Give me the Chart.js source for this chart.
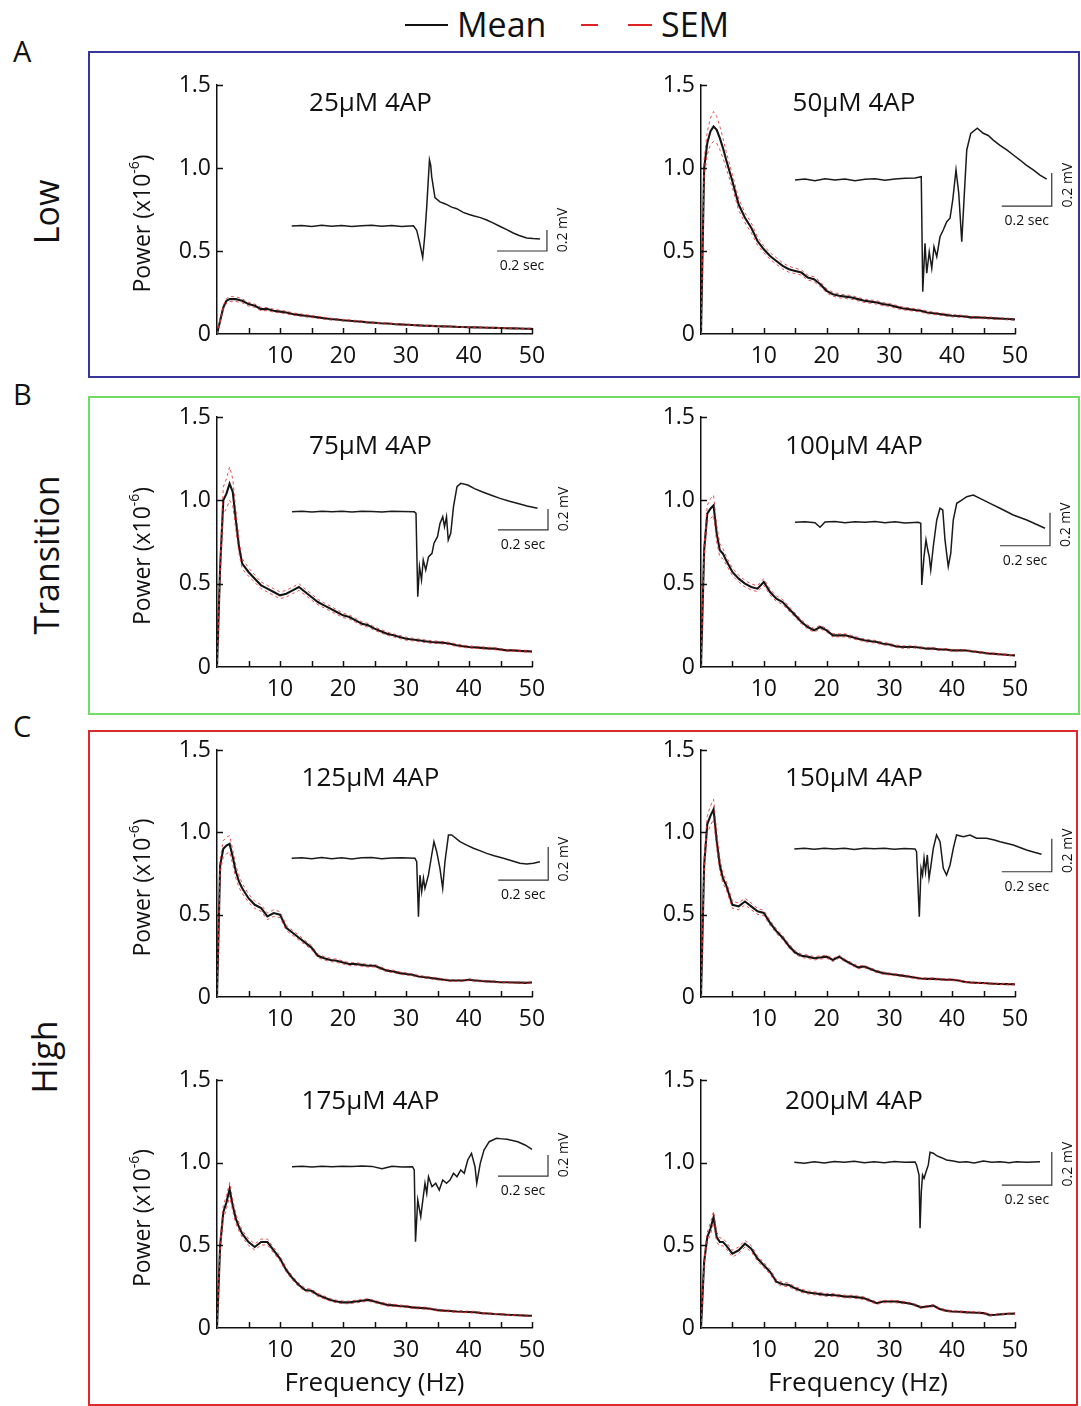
<!DOCTYPE html>
<html>
<head>
<meta charset="utf-8">
<script src="https://cdn.jsdelivr.net/npm/chart.js@4.4.1/dist/chart.umd.min.js"></script>
<style>
	html, body { margin: 0; padding: 0; background: #fff; }
	body { width: 1081px; height: 1406px; position: relative; overflow: hidden; font-family: 'Open Sans', sans-serif; color: #111; }
	.box { position: absolute; box-sizing: border-box; border: 2px solid; }
	.letter { position: absolute; font-size: 29px; line-height: 29px; }
	.rot { position: absolute; font-size: 34px; line-height: 34px; white-space: nowrap; transform: translate(-50%, -50%) rotate(-90deg); }
	.leg { position: absolute; font-size: 34px; line-height: 34px; }
	.dash { position: absolute; height: 0; }
	.panel { position: absolute; }
</style>
</head>
<body>
<div class="box" style="left:88px; top:51px; width:992px; height:327px; border-color:#36369c;"></div>
<div class="box" style="left:88px; top:396px; width:992px; height:319px; border-color:#6fdc66;"></div>
<div class="box" style="left:88px; top:730px; width:990px; height:676px; border-color:#dc2a2a;"></div>

<div class="dash" style="left:405px; top:24px; width:43px; border-top:2.5px solid #111;"></div>
<div class="leg" style="left:457px; top:7px;">Mean</div>
<div class="dash" style="left:581px; top:24px; width:17px; border-top:2.5px solid #e02222;"></div>
<div class="dash" style="left:628px; top:24px; width:24px; border-top:2.5px solid #e02222;"></div>
<div class="leg" style="left:661px; top:7px;">SEM</div>

<div class="letter" style="left:13px; top:36px;">A</div>
<div class="letter" style="left:13px; top:379px;">B</div>
<div class="letter" style="left:13px; top:711px;">C</div>
<div class="rot" style="left:46px; top:212px;">Low</div>
<div class="rot" style="left:46px; top:555px;">Transition</div>
<div class="rot" style="left:44px; top:1057px;">High</div>

<script>
// frequency axis (Hz)
const freqs = [0, 0.5, 1, 1.5, 2, 2.5, 3, 3.5, 4,
	5, 6, 7, 8, 9, 10,
	11, 12, 13, 14, 15, 16, 17, 18, 19, 20,
	21, 22, 23, 24, 25, 26, 27, 28, 29, 30,
	31, 32, 33, 34, 35, 36, 37, 38, 39, 40,
	41, 42, 43, 44, 45, 46, 47, 48, 49, 50];

// mean power (x10^-6)
const mean25 = [0, 0.08, 0.16, 0.20, 0.21, 0.21, 0.21, 0.205, 0.2,
	0.18, 0.17, 0.15, 0.15, 0.14, 0.135,
	0.13, 0.12, 0.115, 0.11, 0.105, 0.1, 0.095, 0.09, 0.087, 0.083,
	0.08, 0.077, 0.074, 0.07, 0.068, 0.065, 0.063, 0.06, 0.058, 0.056,
	0.054, 0.052, 0.05, 0.049, 0.047, 0.046, 0.045, 0.043, 0.042, 0.041,
	0.04, 0.039, 0.038, 0.037, 0.036, 0.035, 0.034, 0.033, 0.032, 0.031];
const mean50 = [0, 1.0, 1.15, 1.22, 1.25, 1.23, 1.18, 1.12, 1.05,
	0.92, 0.78, 0.7, 0.64, 0.56, 0.51,
	0.47, 0.44, 0.41, 0.39, 0.38, 0.37, 0.34, 0.33, 0.3, 0.26,
	0.24, 0.23, 0.225, 0.22, 0.21, 0.2, 0.195, 0.19, 0.18, 0.175,
	0.165, 0.155, 0.15, 0.145, 0.14, 0.13, 0.125, 0.12, 0.115, 0.11,
	0.108, 0.105, 0.1, 0.1, 0.098, 0.096, 0.094, 0.092, 0.09, 0.088];
const mean75 = [0, 0.6, 1.0, 1.04, 1.1, 1.05, 0.88, 0.72, 0.62,
	0.57, 0.53, 0.49, 0.47, 0.45, 0.43,
	0.44, 0.46, 0.48, 0.45, 0.42, 0.39, 0.37, 0.35, 0.33, 0.31,
	0.3, 0.28, 0.26, 0.25, 0.23, 0.215, 0.2, 0.19, 0.18, 0.17,
	0.165, 0.16, 0.155, 0.15, 0.148, 0.145, 0.14, 0.13, 0.125, 0.12,
	0.118, 0.115, 0.112, 0.11, 0.105, 0.1, 0.1, 0.097, 0.095, 0.093];
const mean100 = [0, 0.7, 0.92, 0.95, 0.97, 0.8, 0.7, 0.68, 0.64,
	0.57, 0.53, 0.5, 0.48, 0.47, 0.51,
	0.45, 0.41, 0.39, 0.35, 0.31, 0.27, 0.24, 0.22, 0.24, 0.22,
	0.19, 0.19, 0.19, 0.18, 0.17, 0.16, 0.155, 0.15, 0.14, 0.135,
	0.125, 0.12, 0.12, 0.12, 0.115, 0.11, 0.11, 0.105, 0.105, 0.1,
	0.1, 0.1, 0.095, 0.09, 0.085, 0.08, 0.078, 0.075, 0.072, 0.07];
const mean125 = [0, 0.8, 0.9, 0.92, 0.93, 0.85, 0.76, 0.7, 0.66,
	0.6, 0.56, 0.54, 0.49, 0.51, 0.5,
	0.42, 0.39, 0.36, 0.33, 0.3, 0.25, 0.235, 0.225, 0.22, 0.21,
	0.2, 0.2, 0.195, 0.19, 0.19, 0.175, 0.16, 0.155, 0.145, 0.14,
	0.135, 0.125, 0.12, 0.115, 0.11, 0.105, 0.1, 0.1, 0.1, 0.105,
	0.1, 0.097, 0.095, 0.093, 0.09, 0.09, 0.088, 0.087, 0.086, 0.088];
const mean150 = [0, 0.8, 1.05, 1.1, 1.14, 0.95, 0.8, 0.72, 0.68,
	0.56, 0.55, 0.58, 0.55, 0.52, 0.51,
	0.45, 0.4, 0.36, 0.31, 0.27, 0.25, 0.245, 0.235, 0.24, 0.245,
	0.225, 0.245, 0.22, 0.2, 0.18, 0.185, 0.17, 0.155, 0.145, 0.14,
	0.135, 0.13, 0.125, 0.118, 0.112, 0.11, 0.11, 0.108, 0.105, 0.105,
	0.1, 0.092, 0.088, 0.086, 0.085, 0.082, 0.08, 0.079, 0.078, 0.077];
const mean175 = [0, 0.5, 0.7, 0.76, 0.84, 0.74, 0.66, 0.61, 0.57,
	0.52, 0.49, 0.52, 0.52, 0.47, 0.42,
	0.35, 0.3, 0.26, 0.23, 0.225, 0.2, 0.185, 0.17, 0.16, 0.155,
	0.155, 0.16, 0.165, 0.17, 0.16, 0.15, 0.14, 0.137, 0.133, 0.13,
	0.125, 0.122, 0.12, 0.115, 0.108, 0.105, 0.103, 0.1, 0.098, 0.097,
	0.095, 0.09, 0.088, 0.085, 0.083, 0.08, 0.079, 0.077, 0.075, 0.074];
const mean200 = [0, 0.4, 0.55, 0.6, 0.67, 0.55, 0.52, 0.52, 0.5,
	0.45, 0.47, 0.51, 0.48, 0.42, 0.38,
	0.34, 0.28, 0.265, 0.26, 0.24, 0.225, 0.215, 0.21, 0.205, 0.2,
	0.2, 0.195, 0.19, 0.19, 0.185, 0.18, 0.165, 0.15, 0.16, 0.16,
	0.16, 0.155, 0.15, 0.14, 0.125, 0.13, 0.135, 0.115, 0.105, 0.1,
	0.098, 0.096, 0.094, 0.092, 0.09, 0.078, 0.08, 0.084, 0.086, 0.087];

// SEM of the power
const sem25 = [0, 0.008, 0.012, 0.014, 0.015, 0.015, 0.014, 0.013, 0.012,
	0.011, 0.01, 0.01, 0.009, 0.009, 0.008,
	0.008, 0.007, 0.007, 0.007, 0.006, 0.006, 0.006, 0.006, 0.005, 0.005,
	0.005, 0.005, 0.005, 0.004, 0.004, 0.004, 0.004, 0.004, 0.004, 0.004,
	0.004, 0.003, 0.003, 0.003, 0.003, 0.003, 0.003, 0.003, 0.003, 0.003,
	0.003, 0.003, 0.003, 0.003, 0.003, 0.003, 0.003, 0.003, 0.003, 0.003];
const sem50 = [0, 0.05, 0.07, 0.08, 0.09, 0.08, 0.07, 0.06, 0.05,
	0.04, 0.035, 0.03, 0.03, 0.025, 0.02,
	0.02, 0.02, 0.018, 0.018, 0.016, 0.016, 0.015, 0.015, 0.014, 0.013,
	0.012, 0.012, 0.011, 0.011, 0.01, 0.01, 0.01, 0.01, 0.009, 0.009,
	0.009, 0.009, 0.008, 0.008, 0.008, 0.008, 0.007, 0.007, 0.007, 0.007,
	0.007, 0.006, 0.006, 0.006, 0.006, 0.006, 0.006, 0.005, 0.005, 0.005];
const sem75 = [0, 0.05, 0.08, 0.09, 0.1, 0.08, 0.06, 0.04, 0.03,
	0.025, 0.022, 0.02, 0.02, 0.02, 0.02,
	0.02, 0.02, 0.02, 0.018, 0.018, 0.016, 0.015, 0.015, 0.014, 0.013,
	0.012, 0.012, 0.011, 0.011, 0.01, 0.01, 0.01, 0.009, 0.009, 0.009,
	0.008, 0.008, 0.008, 0.008, 0.007, 0.007, 0.007, 0.007, 0.007, 0.006,
	0.006, 0.006, 0.006, 0.006, 0.006, 0.005, 0.005, 0.005, 0.005, 0.005];
const sem100 = [0, 0.04, 0.05, 0.06, 0.06, 0.05, 0.04, 0.03, 0.025,
	0.022, 0.02, 0.02, 0.018, 0.018, 0.02,
	0.018, 0.016, 0.015, 0.014, 0.013, 0.012, 0.012, 0.011, 0.011, 0.01,
	0.01, 0.009, 0.009, 0.009, 0.008, 0.008, 0.008, 0.008, 0.007, 0.007,
	0.007, 0.007, 0.007, 0.006, 0.006, 0.006, 0.006, 0.006, 0.006, 0.005,
	0.005, 0.005, 0.005, 0.005, 0.005, 0.005, 0.005, 0.004, 0.004, 0.004];
const sem125 = [0, 0.04, 0.05, 0.05, 0.05, 0.045, 0.04, 0.035, 0.03,
	0.025, 0.022, 0.02, 0.02, 0.02, 0.018,
	0.016, 0.015, 0.014, 0.013, 0.012, 0.011, 0.01, 0.01, 0.01, 0.009,
	0.009, 0.009, 0.008, 0.008, 0.008, 0.008, 0.007, 0.007, 0.007, 0.007,
	0.006, 0.006, 0.006, 0.006, 0.006, 0.005, 0.005, 0.005, 0.005, 0.005,
	0.005, 0.005, 0.005, 0.005, 0.004, 0.004, 0.004, 0.004, 0.004, 0.004];
const sem150 = [0, 0.04, 0.05, 0.06, 0.06, 0.05, 0.04, 0.03, 0.025,
	0.022, 0.02, 0.02, 0.02, 0.018, 0.016,
	0.015, 0.014, 0.013, 0.012, 0.011, 0.01, 0.01, 0.01, 0.01, 0.009,
	0.009, 0.009, 0.008, 0.008, 0.008, 0.007, 0.007, 0.007, 0.007, 0.006,
	0.006, 0.006, 0.006, 0.006, 0.005, 0.005, 0.005, 0.005, 0.005, 0.005,
	0.005, 0.004, 0.004, 0.004, 0.004, 0.004, 0.004, 0.004, 0.004, 0.004];
const sem175 = [0, 0.03, 0.04, 0.04, 0.04, 0.035, 0.03, 0.025, 0.02,
	0.02, 0.018, 0.018, 0.018, 0.016, 0.015,
	0.013, 0.012, 0.011, 0.01, 0.01, 0.009, 0.009, 0.008, 0.008, 0.008,
	0.008, 0.008, 0.008, 0.008, 0.007, 0.007, 0.007, 0.007, 0.006, 0.006,
	0.006, 0.006, 0.006, 0.005, 0.005, 0.005, 0.005, 0.005, 0.005, 0.005,
	0.005, 0.004, 0.004, 0.004, 0.004, 0.004, 0.004, 0.004, 0.004, 0.004];
const sem200 = [0, 0.025, 0.03, 0.035, 0.035, 0.03, 0.025, 0.022, 0.02,
	0.02, 0.02, 0.02, 0.018, 0.016, 0.015,
	0.014, 0.013, 0.012, 0.011, 0.01, 0.01, 0.009, 0.009, 0.009, 0.009,
	0.008, 0.008, 0.008, 0.008, 0.008, 0.008, 0.007, 0.007, 0.007, 0.007,
	0.007, 0.007, 0.006, 0.006, 0.006, 0.006, 0.006, 0.006, 0.005, 0.005,
	0.005, 0.005, 0.005, 0.005, 0.005, 0.005, 0.005, 0.004, 0.004, 0.004];

// example field traces: [time (sec), voltage (mV)]
const trace25 = [[0, 0], [0.04, 0.005], [0.08, -0.004], [0.12, 0.006], [0.16, -0.003], [0.2, 0.004], [0.24, -0.005], [0.28, 0.003], [0.32, 0.006], [0.36, -0.003], [0.4, 0.004], [0.44, -0.004], [0.487, 0.002],
	[0.5, -0.04], [0.512, -0.16], [0.524, -0.3], [0.532, -0.1], [0.54, 0.18], [0.551, 0.63], [0.556, 0.58], [0.56, 0.47], [0.573, 0.27], [0.593, 0.23], [0.615, 0.21], [0.64, 0.18], [0.66, 0.165],
	[0.686, 0.13], [0.71, 0.11], [0.73, 0.095], [0.755, 0.08], [0.78, 0.057], [0.805, 0.03], [0.83, 0], [0.86, -0.035], [0.886, -0.067], [0.91, -0.09], [0.94, -0.114], [0.965, -0.12], [0.993, -0.124]];
const trace50 = [[0, 0], [0.04, 0.006], [0.08, -0.004], [0.12, 0.008], [0.16, 0], [0.2, 0.006], [0.24, -0.005], [0.28, 0.004], [0.32, 0.008], [0.36, -0.002], [0.4, 0.006], [0.44, 0.01], [0.48, 0.012], [0.505, 0.02],
	[0.511, -0.677], [0.52, -0.383], [0.527, -0.565], [0.537, -0.435], [0.547, -0.535], [0.556, -0.405], [0.567, -0.465], [0.58, -0.344], [0.593, -0.303], [0.607, -0.253], [0.62, -0.232], [0.631, -0.121],
	[0.644, 0.061], [0.655, -0.08], [0.667, -0.374], [0.676, -0.121], [0.687, 0.182], [0.703, 0.283], [0.729, 0.314], [0.753, 0.283], [0.773, 0.27], [0.793, 0.242], [0.82, 0.21], [0.847, 0.182],
	[0.875, 0.15], [0.9, 0.121], [0.925, 0.09], [0.953, 0.061], [0.98, 0.03], [1.007, 0.005]];
const trace75 = [[0, 0], [0.04, 0.004], [0.08, -0.003], [0.12, 0.005], [0.16, 0], [0.2, 0.004], [0.24, -0.004], [0.28, 0.005], [0.32, 0.002], [0.36, -0.003], [0.4, 0.004], [0.44, 0.002], [0.489, 0],
	[0.496, -0.016], [0.503, -0.81], [0.51, -0.524], [0.518, -0.65], [0.525, -0.46], [0.535, -0.555], [0.546, -0.43], [0.56, -0.397], [0.568, -0.3], [0.582, -0.238], [0.592, -0.111], [0.603, -0.048],
	[0.61, -0.143], [0.618, -0.048], [0.625, -0.27], [0.635, -0.206], [0.646, 0.048], [0.66, 0.238], [0.675, 0.27], [0.703, 0.254], [0.73, 0.22], [0.76, 0.19], [0.8, 0.155], [0.832, 0.127],
	[0.87, 0.1], [0.904, 0.079], [0.94, 0.055], [0.982, 0.032]];
const trace100 = [[0, 0], [0.04, 0.004], [0.08, -0.003], [0.1, -0.03], [0.12, 0.002], [0.16, 0.005], [0.2, -0.002], [0.24, 0.004], [0.28, 0], [0.32, 0.005], [0.36, -0.003], [0.4, 0.003], [0.44, -0.004], [0.493, 0],
	[0.503, -0.006], [0.507, -0.38], [0.516, -0.208], [0.524, -0.107], [0.531, -0.168], [0.537, -0.208], [0.543, -0.289], [0.553, -0.148], [0.567, 0.014], [0.58, 0.085], [0.591, 0.075], [0.6, -0.107],
	[0.613, -0.269], [0.623, -0.188], [0.633, 0.014], [0.647, 0.115], [0.667, 0.135], [0.687, 0.155], [0.713, 0.165], [0.74, 0.145], [0.78, 0.115], [0.82, 0.085], [0.873, 0.044], [0.927, 0.014], [1.0, -0.036]];
const trace125 = [[0, 0], [0.04, 0.004], [0.08, -0.003], [0.12, 0.005], [0.16, -0.002], [0.2, 0.004], [0.24, -0.004], [0.28, 0.003], [0.32, 0.005], [0.36, -0.003], [0.4, 0.002], [0.44, 0.004], [0.493, 0],
	[0.5, -0.021], [0.507, -0.354], [0.513, -0.101], [0.52, -0.202], [0.527, -0.121], [0.533, -0.182], [0.547, -0.101], [0.56, 0.02], [0.569, 0.101], [0.58, 0.04], [0.593, -0.061], [0.604, -0.182],
	[0.613, -0.021], [0.627, 0.141], [0.64, 0.141], [0.673, 0.101], [0.7, 0.08], [0.727, 0.061], [0.755, 0.045], [0.78, 0.03], [0.81, 0.015], [0.847, 0], [0.88, -0.015], [0.913, -0.03], [0.94, -0.035],
	[0.967, -0.03], [0.993, -0.021]];
const trace150 = [[0, 0], [0.04, 0.004], [0.08, -0.002], [0.12, 0.005], [0.16, 0], [0.2, 0.004], [0.24, -0.003], [0.28, 0.004], [0.32, 0.002], [0.36, 0.005], [0.4, -0.002], [0.44, 0.003], [0.483, 0],
	[0.489, -0.016], [0.5, -0.41], [0.507, -0.117], [0.513, -0.158], [0.519, -0.056], [0.525, -0.137], [0.532, -0.036], [0.539, -0.178], [0.545, -0.117], [0.556, 0.004], [0.569, 0.085], [0.583, 0.044],
	[0.596, -0.117], [0.609, -0.158], [0.623, -0.097], [0.636, 0.004], [0.649, 0.085], [0.676, 0.075], [0.703, 0.085], [0.729, 0.065], [0.769, 0.065], [0.8, 0.055], [0.823, 0.044], [0.876, 0.024],
	[0.929, -0.006], [0.96, -0.02], [0.989, -0.032]];
const trace175 = [[0, 0], [0.04, 0.004], [0.08, -0.002], [0.12, 0.005], [0.16, 0], [0.2, 0.004], [0.24, 0.002], [0.28, 0.006], [0.32, 0.003], [0.36, -0.02], [0.4, 0.005], [0.44, -0.002], [0.482, 0],
	[0.489, -0.031], [0.494, -0.714], [0.503, -0.317], [0.515, -0.476], [0.525, -0.286], [0.532, -0.158], [0.539, -0.253], [0.546, -0.095], [0.56, -0.19], [0.575, -0.158], [0.589, -0.222], [0.603, -0.127],
	[0.618, -0.158], [0.632, -0.127], [0.646, -0.063], [0.66, -0.095], [0.675, -0.031], [0.689, -0.063], [0.703, 0.064], [0.718, 0.127], [0.732, 0], [0.739, -0.158], [0.753, 0.032], [0.768, 0.159],
	[0.789, 0.238], [0.818, 0.27], [0.84, 0.265], [0.86, 0.261], [0.903, 0.238], [0.932, 0.207], [0.96, 0.166]];
const trace200 = [[0, 0], [0.04, -0.006], [0.08, 0.004], [0.12, -0.004], [0.16, 0.005], [0.2, 0], [0.24, 0.006], [0.28, -0.003], [0.32, 0.004], [0.36, -0.002], [0.4, 0.005], [0.44, 0], [0.483, 0.002],
	[0.489, -0.016], [0.499, -0.077], [0.503, -0.4], [0.508, -0.178], [0.513, -0.077], [0.519, -0.097], [0.527, -0.057], [0.536, -0.016], [0.543, 0.061], [0.556, 0.055], [0.569, 0.04], [0.589, 0.028],
	[0.609, 0.014], [0.636, 0.008], [0.66, 0], [0.689, 0.004], [0.72, -0.004], [0.756, 0.008], [0.79, 0], [0.823, 0.004], [0.86, -0.003], [0.889, 0.004], [0.93, 0], [0.983, 0.004]];

const titles = ['25µM 4AP', '50µM 4AP', '75µM 4AP', '100µM 4AP', '125µM 4AP', '150µM 4AP', '175µM 4AP', '200µM 4AP'];
const means = [mean25, mean50, mean75, mean100, mean125, mean150, mean175, mean200];
const sems = [sem25, sem50, sem75, sem100, sem125, sem150, sem175, sem200];
const traces = [trace25, trace50, trace75, trace100, trace125, trace150, trace175, trace200];

// ---- layout (page pixels) ----
const FONT = "'Open Sans', sans-serif";
const colArea = [{ left: 217, right: 532 }, { left: 701, right: 1015 }];
const rowArea = [{ top: 85, bottom: 334 }, { top: 417, bottom: 667 }, { top: 750, bottom: 997 }, { top: 1080, bottom: 1328 }];
const canvasCol = [{ left: 95, width: 490 }, { left: 590, width: 491 }];
const titleBase = [26, 37, 36, 29];
const xAxisH = 36;
const pxPerSec = 250;
// inset origin (page px), px per mV, scale bar corner (sec, mV)
const insets = [
	{ x0: 291.7, y0: 226, mvPx: 105, barT: 0.821, barV: -0.238 },
	{ x0: 795, y0: 180, mvPx: 165, barT: 0.827, barV: -0.158 },
	{ x0: 292, y0: 511.7, mvPx: 105, barT: 0.824, barV: -0.174 },
	{ x0: 795, y0: 522.3, mvPx: 165, barT: 0.82, barV: -0.142 },
	{ x0: 291.7, y0: 858.3, mvPx: 165, barT: 0.826, barV: -0.132 },
	{ x0: 794.3, y0: 849, mvPx: 165, barT: 0.83, barV: -0.138 },
	{ x0: 292, y0: 1166.7, mvPx: 105, barT: 0.824, barV: -0.089 },
	{ x0: 794.3, y0: 1162.3, mvPx: 165, barT: 0.83, barV: -0.138 },
];

const extras = {
	id: 'extras',
	afterDraw(chart, args, opts) {
		const { ctx, chartArea: a, scales } = chart;
		const { x, y, x2, y2 } = scales;
		ctx.save();
		// inward ticks
		ctx.strokeStyle = '#111';
		ctx.lineWidth = 1.5;
		ctx.beginPath();
		for (let f = 5; f <= 50; f += 5) {
			const px = Math.round(x.getPixelForValue(f)) + 0.5;
			ctx.moveTo(px, a.bottom);
			ctx.lineTo(px, a.bottom - 6);
		}
		[0.5, 1, 1.5].forEach(v => {
			const py = Math.round(y.getPixelForValue(v)) + 0.5;
			ctx.moveTo(a.left, py);
			ctx.lineTo(a.left + 6, py);
		});
		ctx.stroke();

		ctx.fillStyle = '#111';
		// panel title
		ctx.font = '26px ' + FONT;
		ctx.textAlign = 'center';
		ctx.textBaseline = 'alphabetic';
		ctx.fillText(opts.title, (a.left + a.right) / 2 - 4, a.top + titleBase[opts.row]);

		// scale bar labels
		const bx0 = x2.getPixelForValue(opts.barT);
		const bx1 = x2.getPixelForValue(opts.barT + 0.2);
		const by = y2.getPixelForValue(opts.barV);
		ctx.font = '14px ' + FONT;
		ctx.textBaseline = 'middle';
		ctx.fillText('0.2 sec', (bx0 + bx1) / 2, by + 15);
		ctx.save();
		ctx.translate(bx1 + 16, by - 21);
		ctx.rotate(-Math.PI / 2);
		ctx.fillText('0.2 mV', 0, 0);
		ctx.restore();

		// y axis title with superscript
		if (opts.col === 0) {
			const cx = a.left - 74;
			const cy = (a.top + a.bottom) / 2 + 14;
			const mainFont = '23px ' + FONT;
			const supFont = '14px ' + FONT;
			ctx.font = mainFont;
			const w1 = ctx.measureText('Power (x10').width;
			const w3 = ctx.measureText(')').width;
			ctx.font = supFont;
			const w2 = ctx.measureText('-6').width;
			const total = w1 + w2 + w3;
			ctx.save();
			ctx.translate(cx, cy);
			ctx.rotate(-Math.PI / 2);
			ctx.textAlign = 'left';
			ctx.font = mainFont;
			ctx.fillText('Power (x10', -total / 2, 0);
			ctx.font = supFont;
			ctx.fillText('-6', -total / 2 + w1, -8);
			ctx.font = mainFont;
			ctx.fillText(')', -total / 2 + w1 + w2, 0);
			ctx.restore();
		}
		// x axis title on the bottom row
		if (opts.row === 3) {
			ctx.font = '26px ' + FONT;
			ctx.textAlign = 'center';
			ctx.fillText('Frequency (Hz)', (a.left + a.right) / 2, a.bottom + 56);
		}
		ctx.restore();
	},
};

titles.forEach((title, i) => {
	const row = Math.floor(i / 2);
	const col = i % 2;
	const area = { ...colArea[col], ...rowArea[row] };
	const cv = canvasCol[col];
	const top = area.top - 22;
	const height = area.bottom - top + (row === 3 ? 75 : 45);
	const ins = insets[i];

	const wrap = document.createElement('div');
	wrap.className = 'panel';
	wrap.style.left = cv.left + 'px';
	wrap.style.top = top + 'px';
	wrap.style.width = cv.width + 'px';
	wrap.style.height = height + 'px';
	const canvas = document.createElement('canvas');
	wrap.appendChild(canvas);
	document.body.appendChild(wrap);

	const mean = means[i];
	const sem = sems[i];
	const meanPts = freqs.map((f, k) => ({ x: f, y: mean[k] }));
	const upperPts = freqs.map((f, k) => ({ x: f, y: mean[k] + sem[k] }));
	const lowerPts = freqs.map((f, k) => ({ x: f, y: Math.max(0, mean[k] - sem[k]) }));
	// inset goes past the x range: feed it back to front so chart.js
	// sees it as unsorted and keeps every point (no range culling)
	const tracePts = traces[i].map(p => ({ x: p[0], y: p[1] })).reverse();
	const barPts = [
		{ x: ins.barT + 0.2, y: ins.barV + 0.2 },
		{ x: ins.barT + 0.2, y: ins.barV },
		{ x: ins.barT, y: ins.barV },
	];

	const semStyle = { borderColor: 'rgba(225, 50, 50, 0.85)', borderWidth: 1, borderDash: [3, 3], xAxisID: 'x', yAxisID: 'y' };

	new Chart(canvas, {
		type: 'line',
		data: {
			datasets: [
				{ data: upperPts, ...semStyle },
				{ data: lowerPts, ...semStyle },
				{ data: meanPts, borderColor: '#151515', borderWidth: 2.1, xAxisID: 'x', yAxisID: 'y' },
				{ data: tracePts, borderColor: '#1a1a1a', borderWidth: 1.5, xAxisID: 'x2', yAxisID: 'y2', clip: false },
				{ data: barPts, borderColor: '#333', borderWidth: 1.2, xAxisID: 'x2', yAxisID: 'y2', clip: false },
			],
		},
		options: {
			responsive: true,
			maintainAspectRatio: false,
			animation: false,
			devicePixelRatio: 1,
			events: [],
			elements: { point: { radius: 0 }, line: { tension: 0 } },
			layout: {
				autoPadding: false,
				padding: {
					left: 0,
					top: area.top - top,
					right: cv.left + cv.width - area.right,
					bottom: height - (area.bottom - top) - xAxisH,
				},
			},
			scales: {
				x: {
					type: 'linear',
					min: 0,
					max: 50,
					afterFit: s => { s.height = xAxisH; },
					border: { display: true, color: '#111', width: 1.5 },
					grid: { display: false, drawTicks: false },
					ticks: {
						stepSize: 5,
						autoSkip: false,
						maxRotation: 0,
						padding: 9,
						color: '#111',
						font: { family: FONT, size: 23 },
						callback: v => (v > 0 && v % 10 === 0 ? String(v) : ''),
					},
				},
				y: {
					type: 'linear',
					min: 0,
					max: 1.5,
					afterFit: s => { s.width = area.left - cv.left; },
					border: { display: true, color: '#111', width: 1.5 },
					grid: { display: false, drawTicks: false },
					ticks: {
						stepSize: 0.5,
						padding: 6,
						color: '#111',
						font: { family: FONT, size: 23 },
						callback: v => (v === 0 ? '0' : v.toFixed(1)),
					},
				},
				x2: {
					type: 'linear',
					display: false,
					min: (area.left - ins.x0) / pxPerSec,
					max: (area.right - ins.x0) / pxPerSec,
				},
				y2: {
					type: 'linear',
					display: false,
					min: (ins.y0 - area.bottom) / ins.mvPx,
					max: (ins.y0 - area.top) / ins.mvPx,
				},
			},
			plugins: {
				legend: { display: false },
				tooltip: { enabled: false },
				extras: { title, row, col, barT: ins.barT, barV: ins.barV },
			},
		},
		plugins: [extras],
	});
});
</script>
</body>
</html>
